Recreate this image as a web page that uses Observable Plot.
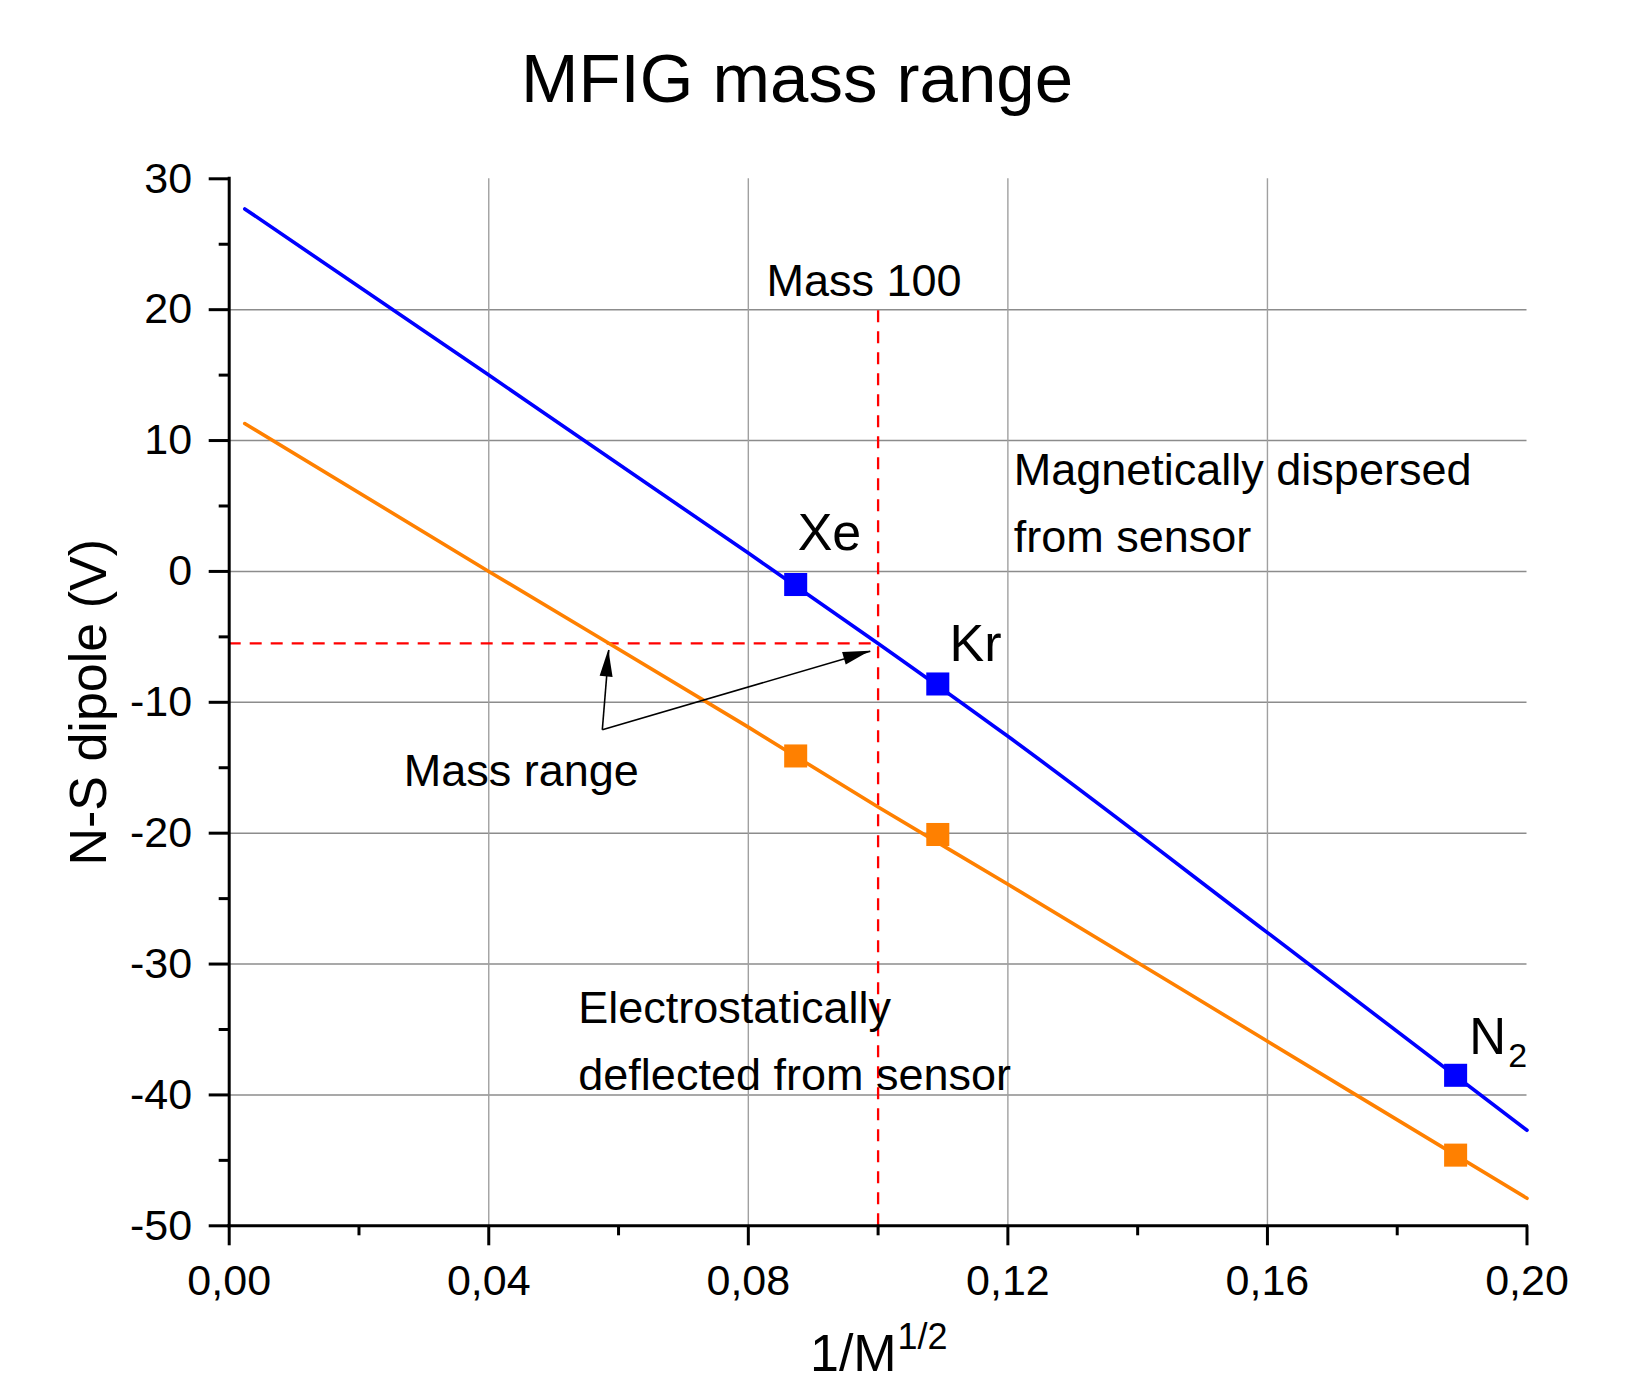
<!DOCTYPE html>
<html>
<head>
<meta charset="utf-8">
<script src="https://cdn.jsdelivr.net/npm/d3@7"></script>
<script src="https://cdn.jsdelivr.net/npm/@observablehq/plot@0.6"></script>
<style>
html, body { margin: 0; padding: 0; background: #fff; overflow: hidden; }
#title {
  box-sizing: border-box; width: 1645px; height: 117px;
  padding: 40px 51px 0 0; margin: 0;
  font: 69px/77px "Liberation Sans", Arial, sans-serif;
  text-align: center; color: #000; font-weight: normal;
}
#chart svg { display: block; }
</style>
</head>
<body>
<div id="title">MFIG mass range</div>
<div id="chart"></div>
<script>
// ---- data ----
const species   = ["Xe", "Kr", "N2"];
const invSqrtM  = [0.0873, 0.1092, 0.1890];     // 1/M^(1/2)
const upperV    = [-1.0, -8.6, -38.5];          // blue series (V)
const lowerV    = [-14.1, -20.1, -44.6];        // orange series (V)

const curveX     = [0.0024, 0.04, 0.08, 0.10, 0.12, 0.16, 0.20];
const upperCurve = [27.7, 15.0, 1.4, -5.5, -12.6, -27.6, -42.7];
const lowerCurve = [11.3, 0.0, -11.9, -18.0, -23.9, -35.9, -47.9];

const massLimitX = [0.1];    // 1/sqrt(100)
const massLimitV = [-5.5];

const arrowFromX = [0.0575, 0.0575];
const arrowFromY = [-12.1, -12.1];
const arrowToX   = [0.0585, 0.0988];
const arrowToY   = [-6.0, -6.1];

const yMajor = [30, 20, 10, 0, -10, -20, -30, -40, -50];
const yMinor = [25, 15, 5, -5, -15, -25, -35, -45];
const xMajor = [0, 0.04, 0.08, 0.12, 0.16, 0.20];
const xMinor = [0.02, 0.06, 0.10, 0.14, 0.18];
const yGrid  = [20, 10, 0, -10, -20, -30, -40];
const xGrid  = [0.04, 0.08, 0.12, 0.16];

// ---- tables ----
const pts = species.map((s, i) => ({species: s, x: invSqrtM[i], upper: upperV[i], lower: lowerV[i]}));
const curve = curveX.map((x, i) => ({x, upper: upperCurve[i], lower: lowerCurve[i]}));
const arrows = arrowToX.map((x, i) => ({x1: arrowFromX[i], y1: arrowFromY[i], x2: x, y2: arrowToY[i]}));

const BLUE = "#0000ff", ORANGE = "#ff8000", RED = "#ff0000";
const FONT = '"Liberation Sans", Arial, sans-serif';
const comma = d => d.toFixed(2).replace(".", ",");
const plain = d => String(d);

// filled arrowheads drawn through the plot's scales
function arrowHeads(index, scales) {
  const sx = scales.x, sy = scales.y;
  const g = d3.create("svg:g");
  for (const a of arrows) {
    const X1 = sx(a.x1), Y1 = sy(a.y1), X2 = sx(a.x2), Y2 = sy(a.y2);
    const L = Math.hypot(X2 - X1, Y2 - Y1);
    const ux = (X2 - X1) / L, uy = (Y2 - Y1) / L;
    const len = 27, hw = 6.5;
    const bx = X2 - ux * len, by = Y2 - uy * len;
    const nx = -uy, ny = ux;
    g.append("polygon")
      .attr("points", `${X2},${Y2} ${bx + nx * hw},${by + ny * hw} ${bx - nx * hw},${by - ny * hw}`)
      .attr("fill", "#000");
  }
  return g.node();
}

const plot = Plot.plot({
  width: 1645,
  height: 1267,
  marginTop: 61.3,
  marginLeft: 228.7,
  marginRight: 118.5,
  marginBottom: 158.7,
  style: {fontFamily: FONT, fontSize: "43px", color: "#000", background: "#fff"},
  x: {domain: [0, 0.2]},
  y: {domain: [-50, 30]},
  marks: [
    Plot.gridY(yGrid, {stroke: "#8c8c8c", strokeOpacity: 1, strokeWidth: 1.4}),
    Plot.gridX(xGrid, {stroke: "#a0a0a0", strokeOpacity: 1, strokeWidth: 1.4}),
    Plot.ruleX(massLimitX, {y1: -50, y2: 20, stroke: RED, strokeWidth: 2.3, strokeDasharray: "12,9"}),
    Plot.ruleY(massLimitV, {x1: 0, x2: massLimitX[0], stroke: RED, strokeWidth: 2.3, strokeDasharray: "12,9"}),
    Plot.line(curve, {x: "x", y: "upper", stroke: BLUE, strokeWidth: 3.6, curve: "monotone-x"}),
    Plot.line(curve, {x: "x", y: "lower", stroke: ORANGE, strokeWidth: 3.6, curve: "monotone-x"}),
    Plot.dot(pts, {x: "x", y: "upper", symbol: "square", r: 13, fill: BLUE, stroke: null}),
    Plot.dot(pts, {x: "x", y: "lower", symbol: "square", r: 13, fill: ORANGE, stroke: null}),
    Plot.link(arrows, {x1: "x1", y1: "y1", x2: "x2", y2: "y2", stroke: "#000", strokeWidth: 1.6}),
    arrowHeads,
    // annotations
    Plot.text(["Mass 100"], {x: 0.0828, y: 21.08, textAnchor: "start", lineAnchor: "bottom", fontSize: 45}),
    Plot.text(["Magnetically dispersed"], {x: 0.1209, y: 6.57, textAnchor: "start", lineAnchor: "bottom", fontSize: 45}),
    Plot.text(["from sensor"], {x: 0.1209, y: 1.52, textAnchor: "start", lineAnchor: "bottom", fontSize: 45}),
    Plot.text(["Xe"], {x: 0.0876, y: 1.67, textAnchor: "start", lineAnchor: "bottom", fontSize: 52}),
    Plot.text(["Kr"], {x: 0.1110, y: -6.88, textAnchor: "start", lineAnchor: "bottom", fontSize: 52}),
    Plot.text(["N"], {x: 0.1911, y: -36.91, textAnchor: "start", lineAnchor: "bottom", fontSize: 51}),
    Plot.text(["2"], {x: 0.1971, y: -37.9, textAnchor: "start", lineAnchor: "bottom", fontSize: 34}),
    Plot.text(["Mass range"], {x: 0.0269, y: -16.36, textAnchor: "start", lineAnchor: "bottom", fontSize: 45}),
    Plot.text(["Electrostatically"], {x: 0.0538, y: -34.54, textAnchor: "start", lineAnchor: "bottom", fontSize: 45}),
    Plot.text(["deflected from sensor"], {x: 0.0538, y: -39.59, textAnchor: "start", lineAnchor: "bottom", fontSize: 45}),
    // axis titles
    Plot.text(["N-S dipole (V)"], {frameAnchor: "left", rotate: -90, dx: -123.7, textAnchor: "middle", lineAnchor: "bottom", fontSize: 52}),
    Plot.text(["1/M"], {x: 0.0895, frameAnchor: "bottom", dy: 145, textAnchor: "start", lineAnchor: "bottom", fontSize: 52}),
    Plot.text(["1/2"], {x: 0.1030, frameAnchor: "bottom", dy: 123, textAnchor: "start", lineAnchor: "bottom", fontSize: 36}),
    // axes
    Plot.axisY(yMajor, {tickSize: 20, tickPadding: 17, strokeWidth: 3, fontSize: 43, tickFormat: plain, label: null}),
    Plot.axisY(yMinor, {tickSize: 10, strokeWidth: 3, tickFormat: () => "", label: null}),
    Plot.axisX(xMajor, {tickSize: 20, tickPadding: 19, strokeWidth: 3, fontSize: 43, tickFormat: comma, label: null}),
    Plot.axisX(xMinor, {tickSize: 10, strokeWidth: 3, tickFormat: () => "", label: null}),
    Plot.ruleX([0], {stroke: "#000", strokeWidth: 3, strokeLinecap: "square"}),
    Plot.ruleY([-50], {stroke: "#000", strokeWidth: 3, strokeLinecap: "square"})
  ]
});
document.getElementById("chart").appendChild(plot);
</script>
</body>
</html>
